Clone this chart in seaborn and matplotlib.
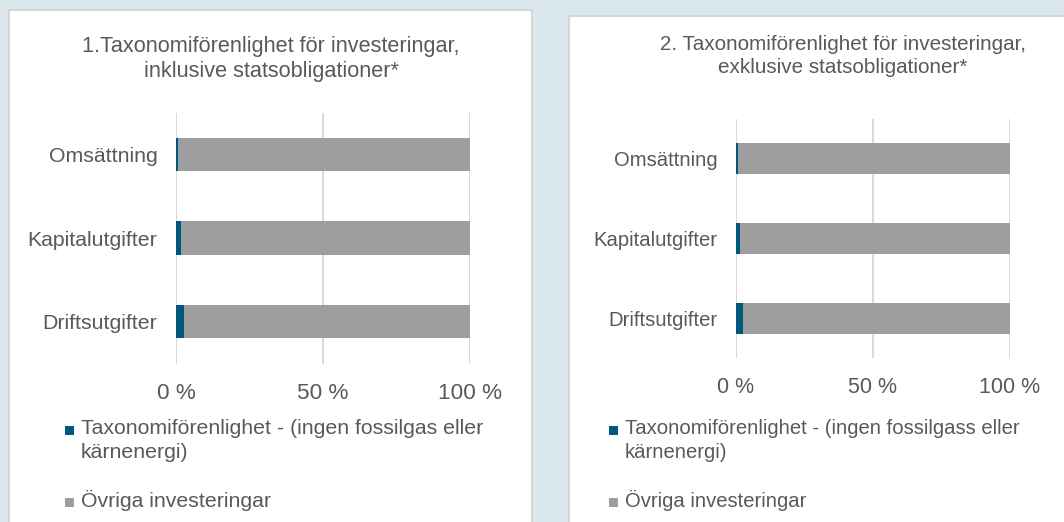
import numpy as np
import pandas as pd
import matplotlib
matplotlib.use("Agg")
import matplotlib.pyplot as plt
from matplotlib.patches import Rectangle
import seaborn as sns

# ---------------- data ----------------
categories = ["Omsättning", "Kapitalutgifter", "Driftsutgifter"]
aligned_incl = [0.6, 1.6, 2.6]      # Taxonomiförenlighet, inkl. statsobligationer
others_incl = [99.4, 98.4, 97.4]    # Övriga investeringar
aligned_excl = [0.6, 1.6, 2.7]      # Taxonomiförenlighet, exkl. statsobligationer
others_excl = [99.4, 98.4, 97.3]
tick_values = [0, 50, 100]
tick_labels = ["0 %", "50 %", "100 %"]
titles = ["1.Taxonomiförenlighet för investeringar,\ninklusive statsobligationer*",
          "2. Taxonomiförenlighet för investeringar,\nexklusive statsobligationer*"]
legend_first = ["Taxonomiförenlighet - (ingen fossilgas eller",
                "Taxonomiförenlighet - (ingen fossilgass eller"]
legend_second = "kärnenergi)"
legend_other = "Övriga investeringar"

BLUE = "#00587a"
GRAY = "#9e9e9e"
TXT = "#595959"
GRID = "#d9d9d9"
BG = "#dae7ed"

sns.set_style("white")
plt.rcParams["font.family"] = ["Liberation Sans", "DejaVu Sans"]

W, H = 1064, 522
fig = plt.figure(figsize=(W / 100, H / 100), dpi=100, facecolor=BG)


def fx(px):
    return px / W


def fy(py):
    return 1 - py / H


# panels (white cards)
for (x0, y0, x1, y1) in [(9, 10, 532, 530), (569, 16, 1070, 530)]:
    fig.patches.append(Rectangle((fx(x0), fy(y1)), fx(x1 - x0), (y1 - y0) / H,
                                 transform=fig.transFigure, facecolor="white",
                                 edgecolor="#d6d6d6", linewidth=1.5, zorder=-5))

panels = [
    dict(rect=(176, 112.7, 470, 363.5), aligned=aligned_incl, others=others_incl,
         fs=15.3, tfs=16.2, ttl=15.6, width=0.40, title_xy=(271, 59),
         leg_marker_x=65, leg_text_x=81, lines=(429, 452, 500), title=titles[0],
         leg1=legend_first[0]),
    dict(rect=(736, 118.5, 1010, 358), aligned=aligned_excl, others=others_excl,
         fs=14.6, tfs=15.5, ttl=14.9, width=0.39, title_xy=(843, 56),
         leg_marker_x=609, leg_text_x=625, lines=(429, 452, 500), title=titles[1],
         leg1=legend_first[1]),
]

for p in panels:
    x0, y0, x1, y1 = p["rect"]
    ax = fig.add_axes([fx(x0), fy(y1), fx(x1 - x0), (y1 - y0) / H])
    ax.set_facecolor("none")
    ax.set_zorder(2)
    df = pd.DataFrame({"cat": categories,
                       "aligned": p["aligned"],
                       "total": np.array(p["aligned"]) + np.array(p["others"])})
    sns.barplot(data=df, x="total", y="cat", orient="h", color=GRAY,
                width=p["width"], ax=ax, saturation=1, linewidth=0)
    sns.barplot(data=df, x="aligned", y="cat", orient="h", color=BLUE,
                width=p["width"], ax=ax, saturation=1, linewidth=0)
    ax.set_xlim(0, 100)
    ax.set_ylim(2.5, -0.5)
    ax.set_xticks(tick_values)
    ax.set_xticklabels(tick_labels)
    ax.set_xlabel("")
    ax.set_ylabel("")
    ax.set_axisbelow(True)
    ax.grid(axis="x", color=GRID, linewidth=1.4)
    ax.grid(axis="y", visible=False)
    for s in ax.spines.values():
        s.set_visible(False)
    ax.tick_params(axis="y", length=0, pad=13.5, labelsize=p["fs"], labelcolor=TXT)
    ax.tick_params(axis="x", length=0, pad=14, labelsize=p["tfs"], labelcolor=TXT)

    # title
    tx, ty = p["title_xy"]
    fig.text(fx(tx), fy(ty), p["title"], ha="center", va="center",
             fontsize=p["ttl"], color=TXT, linespacing=1.3)

    # legend (manual, first line aligned with marker)
    l1, l2, l3 = p["lines"]
    mx = p["leg_marker_x"]
    for yy, col in [(l1 + 1, BLUE), (l3 + 2, GRAY)]:
        fig.patches.append(Rectangle((fx(mx), fy(yy + 4.5)), fx(9), 9 / H,
                                     transform=fig.transFigure, facecolor=col,
                                     edgecolor="none", zorder=3))
    tx0 = p["leg_text_x"]
    fig.text(fx(tx0), fy(l1), p["leg1"], ha="left", va="center",
             fontsize=p["fs"], color=TXT)
    fig.text(fx(tx0), fy(l2), legend_second, ha="left", va="center",
             fontsize=p["fs"], color=TXT)
    fig.text(fx(tx0), fy(l3), legend_other, ha="left", va="center",
             fontsize=p["fs"], color=TXT)

fig.savefig("out.png", dpi=100, facecolor=BG)
